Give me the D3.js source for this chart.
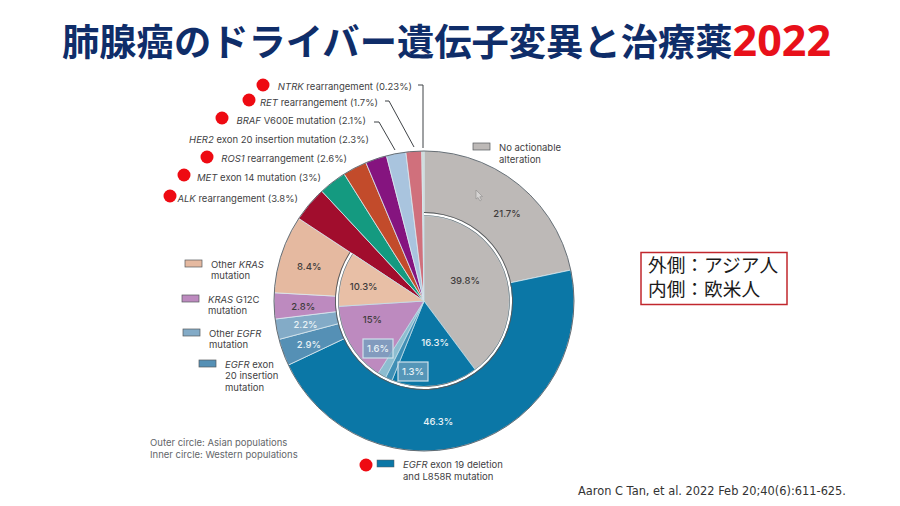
<!DOCTYPE html>
<html>
<head>
<meta charset="utf-8">
<script src="https://cdnjs.cloudflare.com/ajax/libs/d3/7.8.5/d3.min.js"></script>
<style>
html,body{margin:0;padding:0;background:#fff}
svg{display:block}
text{font-family:Inter,"Noto Sans",sans-serif}
</style>
</head>
<body>
<svg id="chart" width="900" height="506"></svg>
<script>
// clockwise from 12 o'clock
const outerNames = ['No actionable','EGFR 19/L858R','EGFR ex20','Other EGFR','KRAS G12C','Other KRAS','ALK','MET','ROS1','HER2','BRAF','RET','NTRK']
const outerValues = [21.7,46.3,2.9,2.2,2.8,8.4,3.8,3,2.6,2.3,2.1,1.7,0.23]
const outerColors = ['#bdb9b7','#0b77a6','#5590b5','#83abc7','#bd8abf','#e5b9a0','#a10d2d','#149a80','#c24b2b','#85147f','#a9c4de','#d0707c','#c9d6d2']

// the rest of the inner circle is not labelled, outer wedges show through
const innerNames = ['No actionable','EGFR 19/L858R','EGFR ex20','Other EGFR','KRAS G12C','Other KRAS','rest']
const innerValues = [39.8,16.3,1.3,1.6,15,10.3,15.7]
const innerColors = ['#bdb9b7','#0b77a6','#3f8fb5','#8dbdd0','#bd8abf','#e8bfa6',null]

const outerLabels = ['21.7%','46.3%','2.9%','2.2%','2.8%','8.4%']
const innerLabels = ['39.8%','16.3%','1.3%','1.6%','15%','10.3%']

const topLabels = [
  {it:'NTRK',rest:' rearrangement (0.23%)',dot:true},
  {it:'RET',rest:' rearrangement (1.7%)',dot:true},
  {it:'BRAF',rest:' V600E mutation (2.1%)',dot:true},
  {it:'HER2',rest:' exon 20 insertion mutation (2.3%)',dot:false},
  {it:'ROS1',rest:' rearrangement (2.6%)',dot:true},
  {it:'MET',rest:' exon 14 mutation (3%)',dot:true},
  {it:'ALK',rest:' rearrangement (3.8%)',dot:true}
]

const svg = d3.select('#chart')
const cx = 424, cy = 301, rOuter = 150, rInner = 85.5

// title
const title = svg.append('text')
  .attr('x',62).attr('y',56)
  .style('font-family','"Noto Sans CJK JP"')
  .style('font-weight',700)
  .style('font-size','37.3px')
title.append('tspan').attr('fill','#0f2d69').text('肺腺癌のドライバー遺伝子変異と治療薬')
title.append('tspan').attr('fill','#e8101a').style('font-family','"Noto Sans"').style('font-size','43px').text('2022')

const pie = d3.pie().sort(null).value(d=>d)
const arcOuter = d3.arc().innerRadius(0).outerRadius(rOuter)
const arcIn = d3.arc().innerRadius(0).outerRadius(rInner)
const g = svg.append('g').attr('transform',`translate(${cx},${cy})`)

const outerArcs = pie(outerValues)
const innerArcs = pie(innerValues)

g.selectAll('path.outer')
  .data(outerArcs)
  .enter()
  .append('path')
  .attr('class','outer')
  .attr('d',arcOuter)
  .attr('fill',(d,i)=>outerColors[i])
  .attr('stroke','#dbe9ef')
  .attr('stroke-width',0.8)

// thin dark rim round the outer circle
g.append('circle').attr('r',rOuter).attr('fill','none').attr('stroke','#4a4f55').attr('stroke-width',0.8)

const innerEnd = innerArcs[5].endAngle
const rimArc = (r,w) => d3.arc().innerRadius(r).outerRadius(r+w).startAngle(0).endAngle(innerEnd)()
g.append('path').attr('d',rimArc(rInner,2.6)).attr('fill','#fff')
g.append('path').attr('d',rimArc(rInner+2.6,0.9)).attr('fill','#55595c')

g.selectAll('path.inner')
  .data(innerArcs.slice(0,6))
  .enter()
  .append('path')
  .attr('class','inner')
  .attr('d',arcIn)
  .attr('fill',(d,i)=>innerColors[i])
  .attr('stroke','#c5e0ea')
  .attr('stroke-width',0.8)
g.append('path').attr('d',rimArc(rInner-0.3,0.6)).attr('fill','#6a6d70')

// value labels: radius and position along the slice
const darkText = '#403c3c', lightText = '#e8f2f6'
const placeLabel = (t,d,r,frac,fill) => {
  const a = d.startAngle+(d.endAngle-d.startAngle)*frac
  g.append('text')
    .attr('x',Math.sin(a)*r)
    .attr('y',-Math.cos(a)*r+3.5)
    .attr('text-anchor','middle')
    .attr('fill',fill)
    .style('font-size','9.5px').style('font-weight',500)
    .text(t)
}
const outerLabelR = [121,121,123,121,121,120]
const outerLabelFrac = [.555,.571,.45,.43,.44,.455]
outerLabels.forEach((t,i)=>{
  placeLabel(t,outerArcs[i],outerLabelR[i],outerLabelFrac[i],(i>=1&&i<=3)?lightText:darkText)
})
const innerLabelR = {0:46,1:43.4,4:55,5:62}
const innerLabelFrac = {0:.44,1:.375,4:.696,5:.45}
;[0,1,4,5].forEach(i=>{
  placeLabel(innerLabels[i],innerArcs[i],innerLabelR[i],innerLabelFrac[i],i==1?lightText:darkText)
})

// boxed small labels
const boxed = [{t:innerLabels[2],x:413,y:371.5},{t:innerLabels[3],x:378,y:348.5}]
boxed.forEach(b=>{
  svg.append('rect').attr('x',b.x-15).attr('y',b.y-9.5).attr('width',30).attr('height',19)
    .attr('fill','#6fa0bd').attr('fill-opacity',0.75).attr('stroke','#cfe2ec').attr('stroke-width',1.2)
  svg.append('text').attr('x',b.x).attr('y',b.y+3.5).attr('text-anchor','middle')
    .attr('fill',lightText).style('font-size','9.5px').style('font-weight',500).text(b.t)
})

// top-left labels with leader lines
const topX = [412,378,366,369,347,321,298]
const topY = [86,102,120,139,158,177,198]
const dotX = [263,249,222,null,207,184,170]
const dotY = [85,100,118,null,157,175,196]
topLabels.forEach((d,i)=>{
  const t = svg.append('text').attr('x',topX[i]).attr('y',topY[i]+3.5).attr('text-anchor','end')
    .attr('fill','#3f3f44').style('font-size','9.5px')
  t.append('tspan').style('font-style','italic').text(d.it)
  t.append('tspan').text(d.rest)
  if(d.dot) svg.append('circle').attr('cx',dotX[i]).attr('cy',dotY[i]).attr('r',6.5).attr('fill','#ee0a12')
})
const line = d3.line()
const leaders = [[[418,85],[423,85],[423,148]],[[385,101],[389,101],[414,147]],[[374,122],[379,122],[395,150]]]
leaders.forEach(l=>{
  svg.append('path').attr('d',line(l)).attr('fill','none').attr('stroke','#3f4347').attr('stroke-width',1)
})

// legend swatches
const legendItems = [
  {x:185,y:260,c:'#e5b9a0',tx:211,lines:[['Other ','KRAS'],['mutation']]},
  {x:182,y:295,c:'#bd8abf',tx:208,lines:[['','KRAS',' G12C'],['mutation']]},
  {x:183,y:329,c:'#83abc7',tx:209,lines:[['Other ','EGFR'],['mutation']]},
  {x:199,y:360,c:'#5590b5',tx:225,lines:[['','EGFR',' exon'],['20 insertion'],['mutation']]}
]
legendItems.forEach(d=>{
  svg.append('rect').attr('x',d.x).attr('y',d.y).attr('width',17).attr('height',7)
    .attr('fill',d.c).attr('stroke','#55595c').attr('stroke-width',0.7)
  d.lines.forEach((ln,j)=>{
    const t = svg.append('text').attr('x',d.tx).attr('y',d.y+7.5+j*11.8).attr('fill','#3f3f44').style('font-size','9.5px')
    if(ln.length==1) t.text(ln[0])
    else {
      t.append('tspan').text(ln[0])
      t.append('tspan').style('font-style','italic').text(ln[1])
      if(ln[2]) t.append('tspan').text(ln[2])
    }
  })
})

// no actionable legend
svg.append('rect').attr('x',473).attr('y',143).attr('width',17).attr('height',7)
  .attr('fill','#bdb9b7').attr('stroke','#55595c').attr('stroke-width',0.7)
svg.append('text').attr('x',499).attr('y',151).attr('fill','#3f3f44').style('font-size','9.5px').text('No actionable')
svg.append('text').attr('x',499).attr('y',163).attr('fill','#3f3f44').style('font-size','9.5px').text('alteration')

// EGFR main legend
svg.append('circle').attr('cx',366).attr('cy',465).attr('r',6.5).attr('fill','#ee0a12')
svg.append('rect').attr('x',377).attr('y',460).attr('width',17).attr('height',7).attr('fill','#0b77a6').attr('stroke','#55595c').attr('stroke-width',0.5)
const e1 = svg.append('text').attr('x',403).attr('y',468).attr('fill','#3f3f44').style('font-size','9.5px')
e1.append('tspan').style('font-style','italic').text('EGFR')
e1.append('tspan').text(' exon 19 deletion')
svg.append('text').attr('x',403).attr('y',480).attr('fill','#3f3f44').style('font-size','9.5px').text('and L858R mutation')

// population note
svg.append('text').attr('x',150).attr('y',446).attr('fill','#63666a').style('font-size','9.5px').text('Outer circle: Asian populations')
svg.append('text').attr('x',150).attr('y',457.5).attr('fill','#63666a').style('font-size','9.5px').text('Inner circle: Western populations')

// mouse pointer left in the screenshot
svg.append('path').attr('d','M476 190 L476 199 L478 197.5 L480 201 L481.5 200 L479.8 196.8 L482.5 196.5 Z')
  .attr('fill','#d6d4d3').attr('stroke','#8d8b8b').attr('stroke-width',0.6)

// box on the right
svg.append('rect').attr('x',641).attr('y',252.5).attr('width',146).attr('height',52)
  .attr('fill','#fff').attr('stroke','#c1272d').attr('stroke-width',1.5)
const boxText = ['外側：アジア人','内側：欧米人']
const boxLabel = svg.append('text').attr('fill','#1a1a1a')
  .style('font-family','"Noto Sans CJK JP"').style('font-size','18.7px')
boxText.forEach((t,i)=>{
  boxLabel.append('tspan').attr('x',648).attr('y',272+i*24).text(t)
})

// citation
svg.append('text').attr('x',578).attr('y',495).attr('fill','#333')
  .style('font-family','"DejaVu Sans"').style('font-size','11.4px')
  .text('Aaron C Tan, et al. 2022 Feb 20;40(6):611-625.')
</script>
</body>
</html>
